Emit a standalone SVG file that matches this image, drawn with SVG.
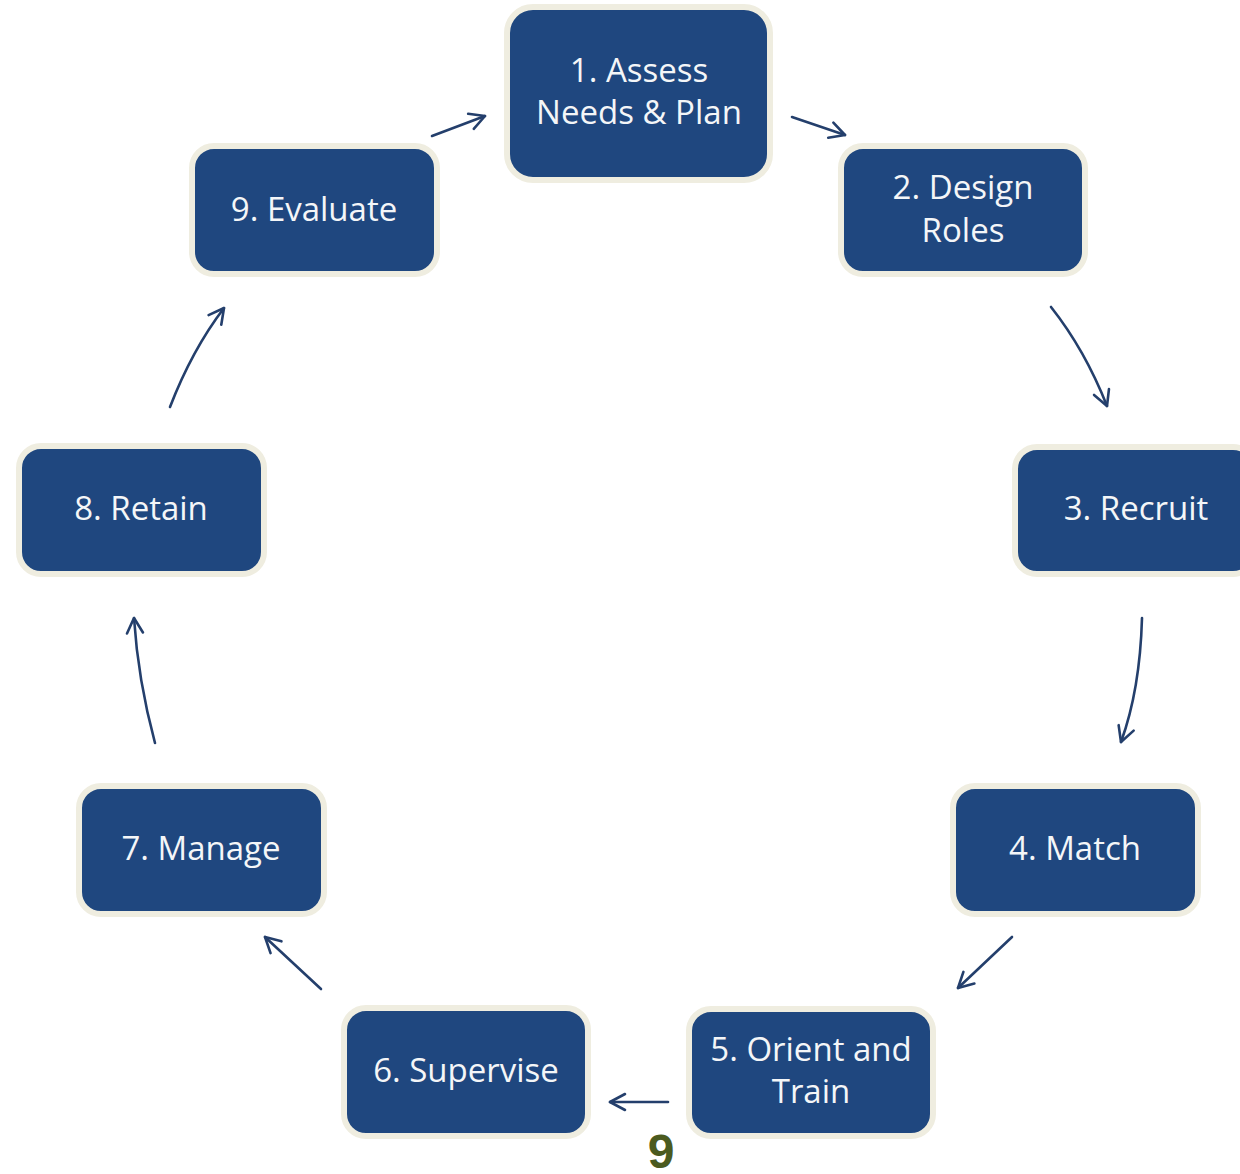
<svg xmlns="http://www.w3.org/2000/svg" width="1240" height="1174" viewBox="0 0 1240 1174">
<defs>
<style>
.box{fill:#1f477f;stroke:#efede0;stroke-width:6}
.lbl{fill:#f4f6f8;font-family:"Open Sans","Noto Sans",sans-serif;font-size:33px;text-anchor:middle}
.arr{fill:none;stroke:#243f6c;stroke-width:2.6;stroke-linecap:round;marker-end:url(#ah)}
</style>
<marker id="ah" markerUnits="userSpaceOnUse" markerWidth="30" markerHeight="30" refX="0" refY="0" viewBox="-20 -15 30 30" orient="auto">
<path d="M -15 -8 L 0 0 L -15 8" fill="none" stroke="#243f6c" stroke-width="2.6" stroke-linecap="round" stroke-linejoin="round"/>
</marker>
</defs>
<rect width="1240" height="1174" fill="#ffffff"/>
<g id="connectors">
<path class="arr" d="M 792 117 L 845 135"/>
<path class="arr" d="M 1051 307 Q 1085 350 1107 406"/>
<path class="arr" d="M 1142 618 Q 1140 690 1121 742"/>
<path class="arr" d="M 1012 937 L 958 988"/>
<path class="arr" d="M 668 1102 L 610 1102"/>
<path class="arr" d="M 321 989 L 265 937"/>
<path class="arr" d="M 155 743 Q 138 680 134 618"/>
<path class="arr" d="M 170 407 Q 192 350 224 308"/>
<path class="arr" d="M 432 136 L 485 116"/>
</g>
<g id="n1"><rect class="box" x="507" y="7" width="263" height="173" rx="26"/><text class="lbl" x="639" y="82">1. Assess</text><text class="lbl" x="639" y="124">Needs &amp; Plan</text></g>
<g id="n2"><rect class="box" x="841" y="146" width="244" height="128" rx="22"/><text class="lbl" x="963" y="199">2. Design</text><text class="lbl" x="963" y="242">Roles</text></g>
<g id="n3"><rect class="box" x="1015" y="447" width="240" height="127" rx="22"/><text class="lbl" x="1136" y="520">3. Recruit</text></g>
<g id="n4"><rect class="box" x="953" y="786" width="245" height="128" rx="22"/><text class="lbl" x="1075" y="860">4. Match</text></g>
<g id="n5"><rect class="box" x="689" y="1009" width="244" height="127" rx="22"/><text class="lbl" x="811" y="1061">5. Orient and</text><text class="lbl" x="811" y="1103">Train</text></g>
<g id="n6"><rect class="box" x="344" y="1008" width="244" height="128" rx="22"/><text class="lbl" x="466" y="1082">6. Supervise</text></g>
<g id="n7"><rect class="box" x="79" y="786" width="245" height="128" rx="22"/><text class="lbl" x="201" y="860">7. Manage</text></g>
<g id="n8"><rect class="box" x="19" y="446" width="245" height="128" rx="22"/><text class="lbl" x="141" y="520">8. Retain</text></g>
<g id="n9"><rect class="box" x="192" y="146" width="245" height="128" rx="22"/><text class="lbl" x="314" y="221">9. Evaluate</text></g>
<text x="661" y="1168" fill="#4b5a1f" font-family="'Liberation Sans',Arial,sans-serif" font-weight="bold" font-size="48" text-anchor="middle">9</text>
</svg>
